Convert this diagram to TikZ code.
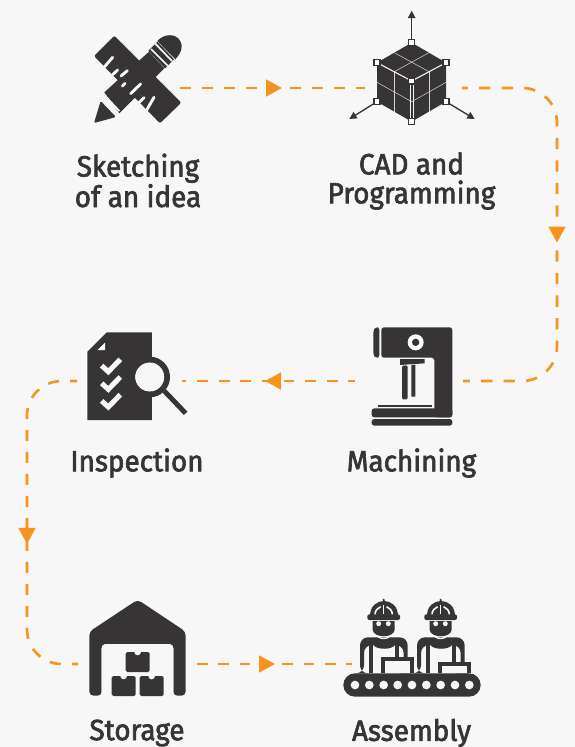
\documentclass[tikz,border=0pt]{standalone}
\usepackage{fontspec}
\setmainfont[FakeStretch=0.95,FakeBold=2.2]{Fira Sans}
\usetikzlibrary{decorations.markings,arrows.meta}
\definecolor{bg}{HTML}{F7F7F7}
\definecolor{ink}{HTML}{373435}
\definecolor{flow}{HTML}{F7941D}
\tikzset{
  x=0.75pt,y=-0.75pt,
  anchorbox/.style={minimum width=#1*0.75pt,minimum height=60pt,inner sep=0pt,outer sep=0pt},
  label/.style={text=ink,align=center,font=\fontsize{22}{21.75}\selectfont,inner sep=0pt},
  conn/.style={draw=flow,line width=2pt,dash pattern=on 8.25pt off 8.25pt,rounded corners=26pt},
  midtip/.style={postaction={decorate,decoration={markings,mark=at position #1 with {\arrow[flow,solid]{Triangle[length=12pt,width=12.5pt]}}}}},
  zoomed/.style={shift={#1},scale=1/3},
  hair/.style={draw=bg!85!black,line width=0.4pt},
  handle/.style={draw=ink,fill=white,line width=0.8pt},
  notch/.style={draw=bg,line width=2.2pt,line cap=round},
  check/.style={draw=bg,line width=3.8pt},
  ring/.style={draw=ink,line width=4.25pt},
}
\begin{document}
\begin{tikzpicture}
\useasboundingbox (0,0) rectangle (575,747);
\fill[bg] (0,0) rectangle (575,747);

% anchors of the six stations
\node[anchorbox=86] (sketch) at (137,88) {};
\node[anchorbox=97] (cad) at (413.5,88) {};
\node[anchorbox=108] (machine) at (409,381) {};
\node[anchorbox=105] (inspect) at (129.5,381) {};
\node[anchorbox=119] (storage) at (137.5,664) {};
\node[anchorbox=120] (assembly) at (412,664) {};
\coordinate (railR) at (557,235);
\coordinate (railL) at (27,535);

% connectors
\draw[conn,midtip=76.5pt] (sketch.east) -- (cad.west);
\draw[conn,dash pattern=on 8.45pt off 8.45pt,dash phase=4pt,midtip=176pt] (cad.east) -| (railR) |- (machine.east);
\draw[conn,dash pattern=on 8.1pt off 8.1pt,dash phase=3.2pt,midtip=67.5pt] (machine.west) -- (inspect.east);
\draw[conn,dash phase=3pt,midtip=148.5pt] (inspect.west) -| (railL) |- (storage.west);
\draw[conn,dash pattern=on 8pt off 8pt,midtip=58.5pt] (storage.east) -- (assembly.west);

% sketching icon
\begin{scope}[zoomed={(70,0)}]
  \fill[ink,rounded corners=1.5pt] (133,107) -- (72,168) -- (270,370) -- (334,308) -- cycle;
  \fill[ink] (103,277) -- (237,155) -- (283,205) -- (148,340) -- cycle;
  \draw[bg,line width=1.3pt] (101,283) -- (148,333);
  \fill[ink,rounded corners=1pt] (72,369) -- (92,303) -- (138,351) -- cycle;
  \fill[ink] (235,152) -- (262,125) -- (312,178) -- (285,205) -- cycle;
  \fill[ink] (262,123) .. controls (282,100) and (318,100) .. (330,122) .. controls (342,142) and (332,160) .. (316,178) -- cycle;
  \draw[bg,line width=1.3pt] (243,147) -- (293,197);
  \draw[bg,line width=1.3pt] (255,130) -- (306,183);
  \draw[notch] (104,200) -- (128,172);
  \draw[notch] (128,224) -- (143,210);
  \draw[notch] (153,228) -- (172,212);
  \draw[notch] (157,258) -- (165,250);
  \draw[notch] (182,281) -- (212,252);
  \draw[notch] (207,308) -- (222,293);
  \draw[notch] (230,330) -- (252,292);
\end{scope}

% CAD icon
\begin{scope}[zoomed={(320,0)}]
  \draw[ink,line width=1pt,-{Triangle[length=5.5pt,width=5.5pt]}] (275,128) -- (275,32);
  \draw[ink,line width=1pt,-{Triangle[length=5.5pt,width=5.5pt]}] (171,305) -- (88,357);
  \draw[ink,line width=1pt,-{Triangle[length=5.5pt,width=5.5pt]}] (378,305) -- (464,357);
  \fill[ink] (275,128) -- (378,188) -- (378,305) -- (275,365) -- (171,305) -- (171,188) -- cycle;
  \draw[hair] (223,158) -- (327,215) (327,158) -- (223,215);
  \draw[hair] (222,215) -- (222,335) (328,215) -- (328,335);
  \draw[hair] (171,247) -- (275,305) -- (378,247);
  \draw[bg,line width=0.8pt] (171,188) -- (275,243) -- (378,188);
  \draw[bg,line width=0.6pt] (270,243) -- (270,365) (280,243) -- (280,365);
  \foreach \p in {(275,128),(378,188),(378,305),(275,243),(171,188),(171,305),(275,365)}
    \draw[handle] \p ++(-9,-9) rectangle ++(18,18);
\end{scope}

% machining icon
\begin{scope}[zoomed={(340,310)}]
  \fill[ink,rounded corners=2pt] (118,52) -- (108,52) -- (100,60) -- (100,136) -- (108,143) -- (118,143) -- cycle;
  \fill[ink,rounded corners=2pt] (124,52) -- (337,52) -- (337,322) -- (283,322) -- (283,143) -- (124,143) -- cycle;
  \fill[white] (227,97) circle (24);
  \fill[ink] (227,97) circle (11);
  \fill[ink] (180,147) -- (254,147) -- (254,160) -- (180,165) -- cycle;
  \fill[ink,rounded corners=1pt] (186,167) -- (203,166) -- (203,268) -- (186,268) -- cycle;
  \fill[ink] (214,165) -- (226,164) -- (226,260) -- (214,260) -- cycle;
  \fill[ink] (113,284) rectangle (275,292);
  \fill[ink,rounded corners=2pt] (95,322) -- (95,295) -- (337,295) -- (337,322) -- cycle;
  \fill[ink,rounded corners=2pt] (95,327) -- (337,327) -- (337,347) -- (95,347) -- cycle;
\end{scope}

% inspection icon
\begin{scope}[zoomed={(70,320)}]
  \fill[ink] (52,95) -- (110,37) -- (246,37) -- (246,300) -- (52,300) -- cycle;
  \fill[white] (105,68) -- (105,90) -- (83,90) -- cycle;
  \foreach \d in {0,53,106}
    \draw[check] (95,\d+137) -- (115,\d+155) -- (151,\d+118);
  \fill[bg] (239,171) circle (44);
  \draw[ring] (239,171) circle (52.5);
  \draw[ink,line width=3.7pt] (283,213) -- (347,280);
\end{scope}

% storage icon
\begin{scope}[zoomed={(70,590)}]
  \fill[ink,rounded corners=3pt] (203,29) -- (347,125) -- (347,317) -- (310,317) -- (310,162) -- (95,162) -- (95,317) -- (58,317) -- (58,125) -- cycle;
  \fill[bg,rounded corners=3pt] (95,320) -- (95,162) -- (310,162) -- (310,320) -- cycle;
  \foreach \x/\y in {167/186,125/258,209/258}{
    \fill[ink,rounded corners=1.2pt] (\x,\y) rectangle ++(72,60);
    \fill[bg] (\x+36,\y) circle (10);
  }
\end{scope}

% assembly icon
\begin{scope}[zoomed={(335,590)}]
  \foreach \d/\by in {0/208,171/222}{
    \begin{scope}[xshift=\d*0.75pt]
      \fill[ink] (146,30) circle (4);
      \fill[ink] (104,78) .. controls (104,18) and (188,18) .. (188,78) -- cycle;
      \fill[ink,rounded corners=1.5pt] (97,73) rectangle (195,90);
      \draw[bg,line width=1.2pt] (146,46) -- (146,73);
      \draw[bg,line width=1.2pt] (120,73) .. controls (120,62) and (128,54) .. (137,50);
      \draw[bg,line width=1.2pt] (172,73) .. controls (172,62) and (164,54) .. (155,50);
      \fill[ink] (113,93) -- (179,93) -- (179,120) .. controls (175,145) and (117,145) .. (113,120) -- cycle;
      \fill[ink,rounded corners=6pt] (75,250) -- (75,142) -- (218,142) -- (218,250) -- (206,250) -- (206,165) -- (87,165) -- (87,250) -- cycle;
      \fill[ink] (103,155) rectangle (190,165);
      \fill[ink] (115,165) .. controls (125,180) and (170,180) .. (180,165) -- cycle;
      \fill[bg] (131,101) circle (7.5) (160,101) circle (7.5);
      \draw[bg,line width=1pt] (130,141) .. controls (140,147) and (152,147) .. (162,141);
      \fill[ink] (103,165) rectangle (115,250);
      \fill[ink] (180,165) rectangle (192,\by);
      \draw[ink,line width=3pt] (145,250) -- (145,\by) -- (232,\by) -- (232,250);
      \fill[bg] (151,\by+6) rectangle (226,248);
    \end{scope}
  }
  \fill[ink,rounded corners=35*0.25pt] (25,250) rectangle (437,320);
  \foreach \x in {60,103,146,188,231,274,317,360,403}
    \fill[bg] (\x,285) circle (13);
\end{scope}

% labels
\node[label] (l1) at (138,180.5) {Sketching\\of an idea};
\node[label] (l2) at (411.5,181) {CAD and\\Programming};
\node[label] (l3) at (411.5,463) {Machining};
\node[label] (l4) at (137,463) {Inspection};
\node[label] (l5) at (137,733) {Storage};
\node[label] (l6) at (411.5,733) {Assembly};
\end{tikzpicture}
\end{document}
